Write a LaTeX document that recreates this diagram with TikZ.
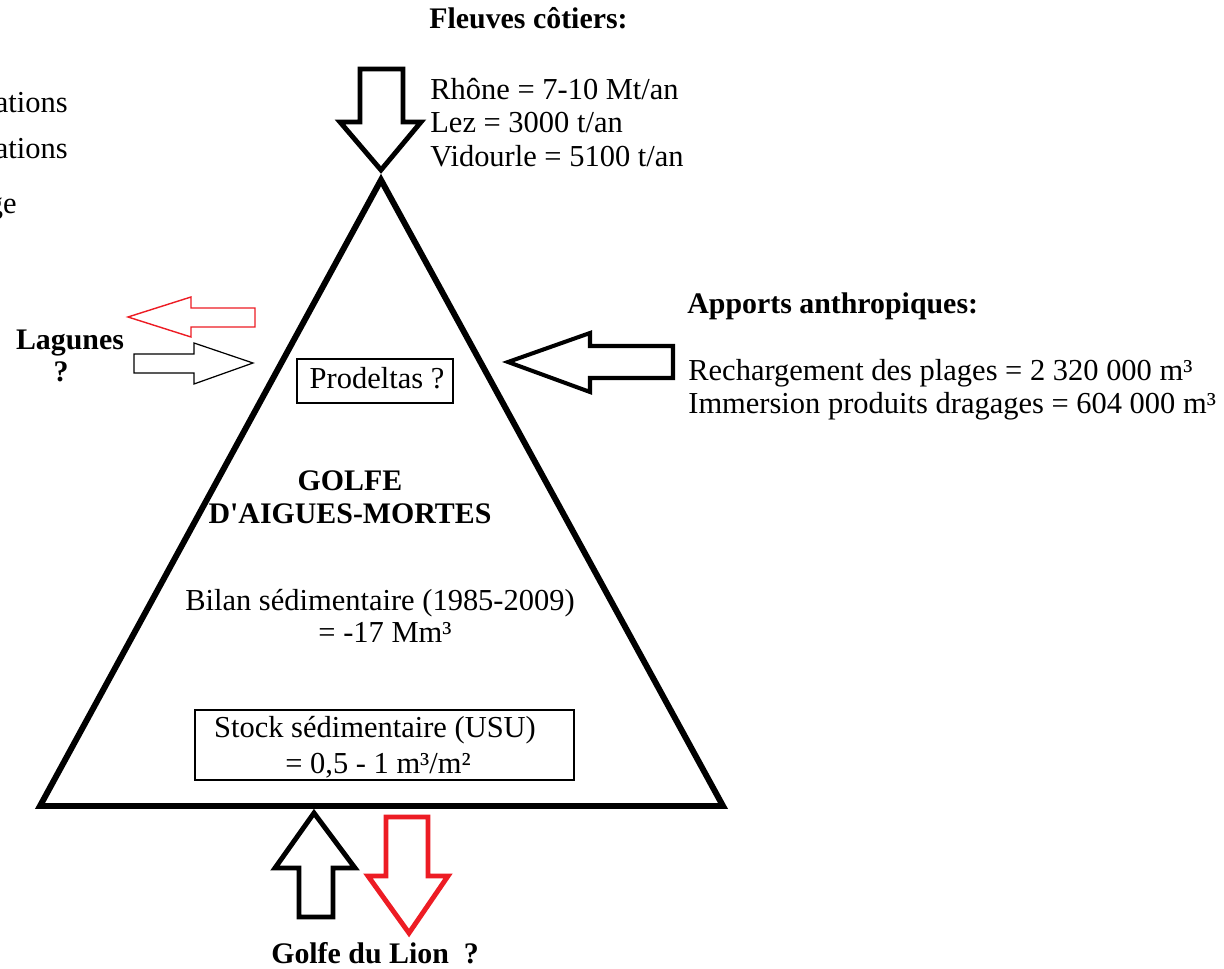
\documentclass[tikz,border=0pt]{standalone}
\usepackage{fontspec}
\setmainfont{Liberation Serif}[Ligatures=TeXOff]
\definecolor{pred}{RGB}{237,28,36}
\begin{document}
\begin{tikzpicture}[x=0.02cm,y=-0.02cm,
  txt/.style={inner sep=0pt,font=\fontsize{17.35}{19}\selectfont},
  btxt/.style={inner sep=0pt,font=\fontsize{17}{19}\selectfont\bfseries},
  thickarrow/.style={draw=black,line width=2.8pt,line join=miter,fill=white},
  thinarrow/.style={draw=black,line width=0.7pt,line join=miter,fill=white},
  framebox/.style={draw=black,line width=0.8pt},
]
\clip (0,0) rectangle (1224,969);
\fill[white] (0,0) rectangle (1224,969);

% triangle
\draw[line width=3.4pt,line join=miter] (381,180) -- (40,806) -- (723,806) -- cycle;

% top arrow
\draw[thickarrow] (360,69) -- (403,69) -- (403,122) -- (421,122) -- (381,170) -- (340,122) -- (360,122) -- cycle;
% right arrow
\draw[thickarrow,line width=2.3pt] (673,346) -- (590,346) -- (590,333) -- (508,362) -- (590,392) -- (590,378) -- (673,378) -- cycle;
% lagunes arrows
\draw[thinarrow,draw=pred,line width=0.8pt] (255,308) -- (191,308) -- (191,297) -- (128,317) -- (191,337) -- (191,327) -- (255,327) -- cycle;
\draw[thinarrow] (134,354) -- (194,354) -- (194,343) -- (253,363) -- (194,384) -- (194,373) -- (134,373) -- cycle;
% bottom arrows
\draw[thickarrow] (299,917) -- (299,868) -- (275,868) -- (314,813) -- (355,868) -- (333,868) -- (333,917) -- cycle;
\draw[thickarrow,draw=pred] (386,817) -- (428,817) -- (428,876) -- (448,876) -- (409,933) -- (368,876) -- (386,876) -- cycle;

% boxes
\draw[framebox] (297,359) rectangle (453,403);
\draw[framebox] (195,710) rectangle (574,780);

% texts
\node[btxt,anchor=base west] (fleuves) at (429,29) {Fleuves côtiers:};
\node[txt,anchor=base west] (rhone) at (430,100) {Rhône = 7-10 Mt/an};
\node[txt,anchor=base west] (lez) at (430,133) {Lez = 3000 t/an};
\node[txt,anchor=base west] (vidourle) at (430,167) {Vidourle = 5100 t/an};

\node[btxt,anchor=base west] (apports) at (687,314) {Apports anthropiques:};
\node[txt,anchor=base west] (recharge) at (688,381) {Rechargement des plages = 2 320 000 m³};
\node[txt,anchor=base west] (immersion) at (688,414) {Immersion produits dragages = 604 000 m³};

\node[btxt,anchor=base] (lagunes) at (70,350) {Lagunes};
\node[btxt,anchor=base] (lagq) at (61,382) {?};

\node[txt,anchor=base] (prodeltas) at (377,389) {Prodeltas ?};
\node[btxt,anchor=base] (golfe) at (350,490) {GOLFE};
\node[btxt,anchor=base] (aigues) at (350,523) {D'AIGUES-MORTES};
\node[txt,anchor=base] (bilan) at (380,610) {Bilan sédimentaire (1985-2009)};
\node[txt,anchor=base] (bilanval) at (385,642) {= -17 Mm³};
\node[txt,anchor=base] (stock) at (375,737) {Stock sédimentaire (USU)};
\node[txt,anchor=base] (stockval) at (378,773) {= 0,5 - 1 m³/m²};
\node[btxt,anchor=base] (lion) at (375,963) {Golfe du Lion\ \ ?};

\node[txt,anchor=base east] (cut1) at (68,113) {ations};
\node[txt,anchor=base east] (cut2) at (68,159) {ations};
\node[txt,anchor=base east] (cut3) at (17,214) {ge};
\end{tikzpicture}
\end{document}
